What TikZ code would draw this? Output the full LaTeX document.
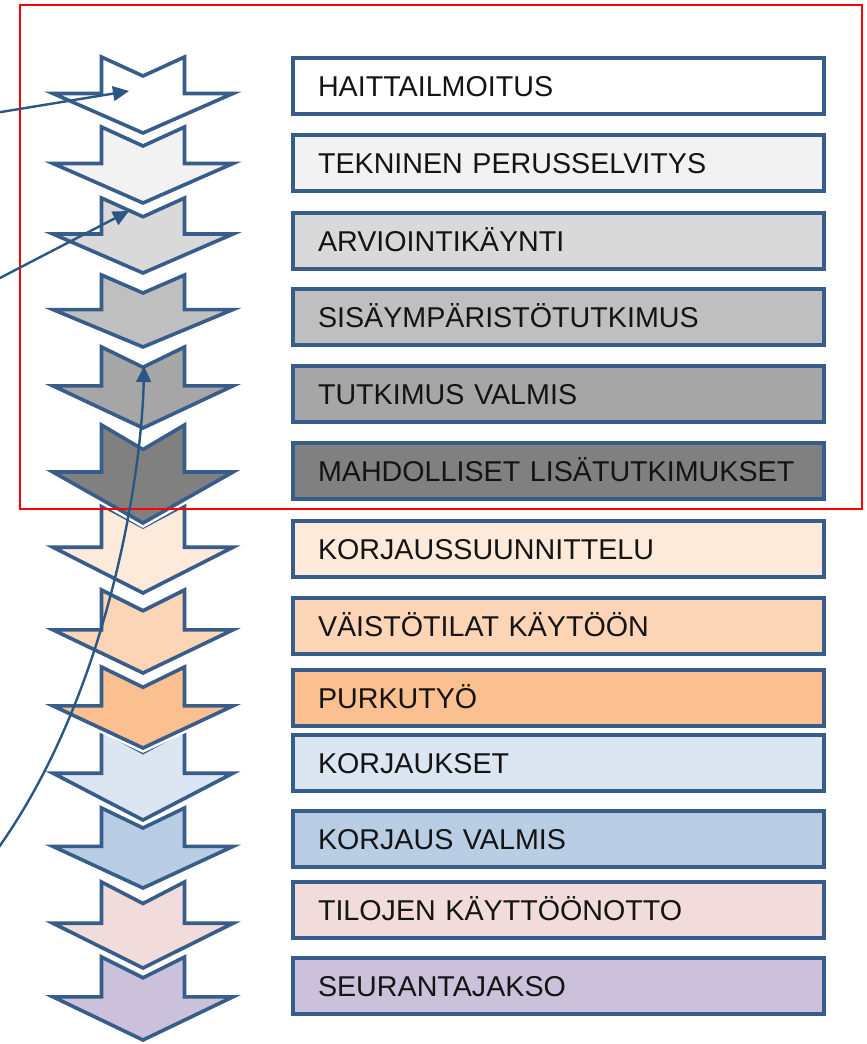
\documentclass[tikz,border=0pt]{standalone}
\usepackage{fontspec}
\setmainfont{Liberation Sans}
\usetikzlibrary{arrows.meta}
\definecolor{edgeblue}{HTML}{385D8A}
\definecolor{linkblue}{HTML}{2A5783}
\definecolor{fA}{HTML}{FFFFFF}
\definecolor{fB}{HTML}{F2F2F2}
\definecolor{fC}{HTML}{D9D9D9}
\definecolor{fD}{HTML}{BFBFBF}
\definecolor{fE}{HTML}{A6A6A6}
\definecolor{fF}{HTML}{808080}
\definecolor{fG}{HTML}{FDEADA}
\definecolor{fH}{HTML}{FBD5B5}
\definecolor{fI}{HTML}{FAC090}
\definecolor{fJ}{HTML}{DCE6F2}
\definecolor{fK}{HTML}{B9CDE5}
\definecolor{fL}{HTML}{F2DCDB}
\definecolor{fM}{HTML}{CCC1DA}
\tikzset{
    phase/.style={rectangle, draw=edgeblue, line width=2.7pt, anchor=north west, outer sep=0pt,
        text width=360.75pt, inner xsep=18.75pt, minimum height=42pt, align=left,
        text height=15.4pt, text depth=0pt, font=\fontsize{21.5pt}{25pt}\selectfont, text=black!92},
    chevron/.style={draw=edgeblue, line width=2.7pt, line join=miter, preaction={draw=white, line width=6.5pt}},
    link/.style={-{Triangle[length=12pt, width=11pt]}, draw=linkblue, line width=1.8pt},
    frame/.style={draw=red, line width=1.5pt}
}

\begin{document}
\begin{tikzpicture}[x=0.75pt, y=-0.75pt]
            \useasboundingbox (0,0) rectangle (866,1044);
            % chevrons, drawn from the last one up
            \foreach \t/\b/\c in {957/1040/fM, 882/968/fL, 808/888/fK, 730/820/fJ, 667/748/fI,
                590/673/fH, 505/593/fG, 425/523/fF, 347/428/fE, 275/347/fD, 198/273/fC,
                127/203/fB, 57/133/fA}{
                \pgfmathsetmacro\n{\t+0.25*(\b-\t)}
                \pgfmathsetmacro\m{\t+0.48*(\b-\t)}
                \draw[chevron, fill=\c] (101.5,\t) -- (143,\n) -- (184.5,\t) -- (184.5,\m)
                    -- (233,\m) -- (143,\b) -- (53,\m) -- (101.5,\m) -- cycle;
            }
            
            \node (haitta) [phase, fill=fA] at (293,58) {HAITTAILMOITUS};
            \node (perus) [phase, fill=fB] at (293,135) {TEKNINEN PERUSSELVITYS};
            \node (arvio) [phase, fill=fC] at (293,213) {ARVIOINTIKÄYNTI};
            \node (sisa) [phase, fill=fD] at (293,289) {SISÄYMPÄRISTÖTUTKIMUS};
            \node (valmis) [phase, fill=fE] at (293,366) {TUTKIMUS VALMIS};
            \node (lisa) [phase, fill=fF] at (293,443) {MAHDOLLISET LISÄTUTKIMUKSET};
            \node (suunn) [phase, fill=fG] at (293,521) {KORJAUSSUUNNITTELU};
            \node (vaisto) [phase, fill=fH] at (293,598) {VÄISTÖTILAT KÄYTÖÖN};
            \node (purku) [phase, fill=fI] at (293,670) {PURKUTYÖ};
            \node (korj) [phase, fill=fJ] at (293,735) {KORJAUKSET};
            \node (kvalmis) [phase, fill=fK] at (293,811) {KORJAUS VALMIS};
            \node (kaytto) [phase, fill=fL] at (293,882) {TILOJEN KÄYTTÖÖNOTTO};
            \node (seuranta) [phase, fill=fM] at (293,958) {SEURANTAJAKSO};
            
            \draw[frame] (20,5) rectangle (862,509);
            
            \coordinate (src1) at (-2,112.5);
            \coordinate (src2) at (-2,279);
            \coordinate (src3) at (-1,847);
            \coordinate (tgt1) at (129,91);
            \coordinate (tgt2) at (129,211);
            \coordinate (tgt3) at (144,366);
            \draw[link] (src1) -- (tgt1);
            \draw[link] (src2) -- (tgt2);
            \draw[link] (src3) .. controls (110,690) and (142,470) .. (tgt3);
        \end{tikzpicture}
\end{document}
